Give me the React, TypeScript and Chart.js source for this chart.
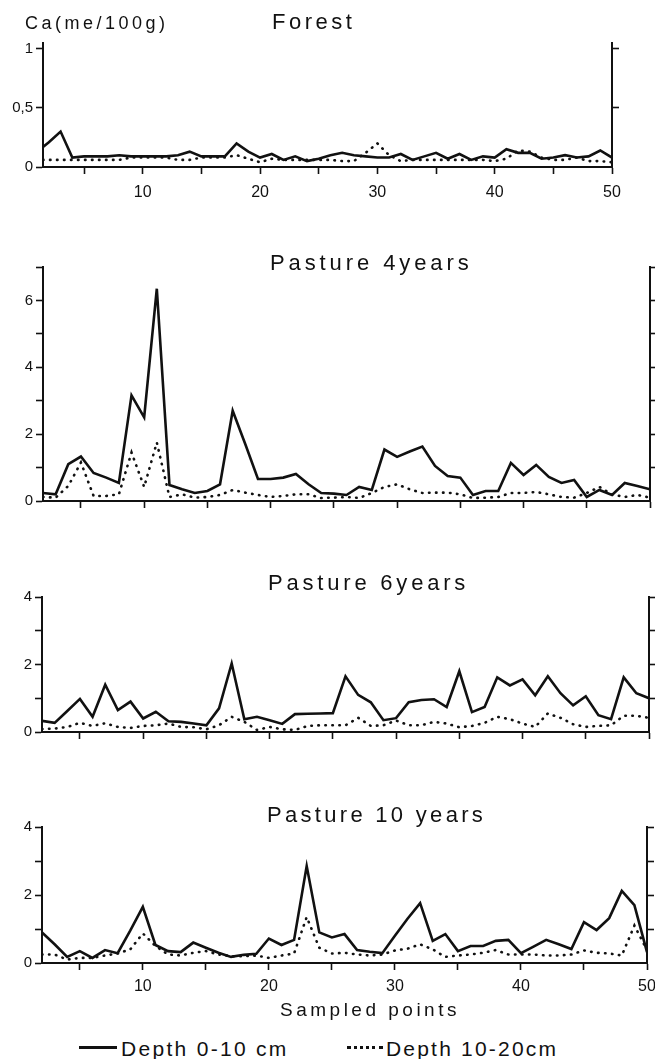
import React, { useEffect, useRef } from 'react';
import { Chart, registerables } from 'chart.js';

Chart.register(...registerables);

// ---------- DATA ----------
const forestPoints = [1.5, 2, 3, 4, 5, 6, 7, 8, 9, 10, 11, 12, 13, 14, 15, 16, 17, 18, 19, 20, 21, 22, 23, 24, 25, 26, 27, 28, 29, 30, 31, 32, 33, 34, 35, 36, 37, 38, 39, 40, 41, 42, 43, 44, 45, 46, 47, 48, 49, 50];
const points = [2, 3, 4, 5, 6, 7, 8, 9, 10, 11, 12, 13, 14, 15, 16, 17, 18, 19, 20, 21, 22, 23, 24, 25, 26, 27, 28, 29, 30, 31, 32, 33, 34, 35, 36, 37, 38, 39, 40, 41, 42, 43, 44, 45, 46, 47, 48, 49, 50];

const forestTop = [0.17, 0.21, 0.30, 0.08, 0.09, 0.09, 0.09, 0.10, 0.09, 0.09, 0.09, 0.09, 0.10, 0.13, 0.09, 0.09, 0.09, 0.20, 0.13, 0.08, 0.11, 0.06, 0.09, 0.05, 0.07, 0.10, 0.12, 0.10, 0.09, 0.08, 0.08, 0.11, 0.06, 0.09, 0.12, 0.07, 0.11, 0.06, 0.09, 0.08, 0.15, 0.12, 0.12, 0.07, 0.08, 0.10, 0.08, 0.09, 0.14, 0.08];
const forestSub = [0.06, 0.06, 0.06, 0.06, 0.06, 0.06, 0.06, 0.06, 0.08, 0.08, 0.08, 0.08, 0.06, 0.06, 0.08, 0.08, 0.08, 0.10, 0.07, 0.04, 0.07, 0.06, 0.06, 0.06, 0.06, 0.06, 0.05, 0.05, 0.12, 0.20, 0.10, 0.05, 0.06, 0.06, 0.06, 0.06, 0.06, 0.06, 0.06, 0.05, 0.07, 0.14, 0.13, 0.08, 0.06, 0.06, 0.08, 0.05, 0.05, 0.04];

const p4Top = [0.24, 0.2, 1.1, 1.33, 0.84, 0.7, 0.54, 3.16, 2.5, 6.35, 0.48, 0.35, 0.24, 0.3, 0.5, 2.7, 1.7, 0.66, 0.66, 0.7, 0.81, 0.5, 0.24, 0.22, 0.18, 0.42, 0.33, 1.54, 1.32, 1.48, 1.63, 1.05, 0.75, 0.7, 0.18, 0.3, 0.3, 1.14, 0.78, 1.08, 0.72, 0.54, 0.63, 0.12, 0.33, 0.18, 0.54, 0.45, 0.35];
const p4Sub = [0.12, 0.1, 0.45, 1.15, 0.15, 0.15, 0.2, 1.45, 0.42, 1.75, 0.12, 0.2, 0.1, 0.12, 0.18, 0.33, 0.25, 0.18, 0.12, 0.15, 0.2, 0.2, 0.09, 0.1, 0.12, 0.09, 0.24, 0.42, 0.5, 0.35, 0.24, 0.25, 0.25, 0.2, 0.09, 0.1, 0.12, 0.24, 0.24, 0.27, 0.2, 0.12, 0.1, 0.24, 0.42, 0.2, 0.12, 0.18, 0.1];

const p6Top = [0.33, 0.27, 0.62, 0.98, 0.45, 1.4, 0.65, 0.9, 0.4, 0.6, 0.32, 0.3, 0.25, 0.2, 0.7, 2.03, 0.38, 0.45, 0.35, 0.24, 0.53, 0.54, 0.55, 0.56, 1.65, 1.1, 0.88, 0.35, 0.41, 0.88, 0.95, 0.97, 0.74, 1.8, 0.59, 0.74, 1.62, 1.38, 1.56, 1.09, 1.65, 1.15, 0.79, 1.06, 0.5, 0.38, 1.62, 1.15, 1.0];
const p6Sub = [0.09, 0.1, 0.15, 0.27, 0.18, 0.26, 0.15, 0.12, 0.18, 0.2, 0.25, 0.15, 0.14, 0.08, 0.2, 0.45, 0.3, 0.06, 0.15, 0.08, 0.06, 0.18, 0.2, 0.2, 0.2, 0.42, 0.18, 0.2, 0.34, 0.2, 0.2, 0.3, 0.25, 0.14, 0.18, 0.27, 0.45, 0.38, 0.25, 0.15, 0.55, 0.42, 0.23, 0.15, 0.18, 0.2, 0.48, 0.48, 0.42];

const p10Top = [0.9, 0.55, 0.18, 0.35, 0.15, 0.38, 0.29, 0.95, 1.65, 0.53, 0.35, 0.32, 0.6, 0.45, 0.3, 0.18, 0.24, 0.27, 0.72, 0.53, 0.68, 2.85, 0.9, 0.75, 0.85, 0.38, 0.33, 0.29, 0.8, 1.3, 1.76, 0.65, 0.85, 0.35, 0.5, 0.5, 0.65, 0.68, 0.29, 0.48, 0.68, 0.55, 0.41, 1.2, 0.97, 1.32, 2.12, 1.7, 0.32];
const p10Sub = [0.25, 0.25, 0.1, 0.15, 0.15, 0.22, 0.28, 0.4, 0.87, 0.5, 0.25, 0.22, 0.3, 0.35, 0.25, 0.2, 0.2, 0.22, 0.15, 0.22, 0.28, 1.35, 0.45, 0.28, 0.3, 0.25, 0.22, 0.25, 0.37, 0.42, 0.55, 0.4, 0.18, 0.22, 0.25, 0.3, 0.38, 0.25, 0.25, 0.25, 0.22, 0.22, 0.25, 0.37, 0.3, 0.28, 0.22, 1.1, 0.38];

const xTickValues = [5, 10, 15, 20, 25, 30, 35, 40, 45, 50];
const forestYTicks = [0, 0.5, 1];
const p4YTicks = [0, 1, 2, 3, 4, 5, 6, 7];
const p610YTicks = [0, 1, 2, 3, 4];

const titles = ['Forest', 'Pasture 4years', 'Pasture 6years', 'Pasture 10 years'];
const yUnit = 'Ca(me/100g)';
const xTitle = 'Sampled points';
const seriesNames = ['Depth 0-10 cm', 'Depth 10-20cm'];

const INK = '#111';
const FONT = '"Liberation Sans", Arial, Helvetica, sans-serif';
const W = 655;

type PanelDef = {
  top: number; height: number; areaTop: number; areaBottom: number; areaLeft: number; areaRight: number;
  xMin: number; yMax: number; yTicks: number[]; rightTicks: number[]; labelEven: boolean;
  showXLabels: boolean; xPad: number; xs: number[]; solid: number[]; dotted: number[];
};

const panels: PanelDef[] = [
  { top: 30, height: 180, areaTop: 43, areaBottom: 167, areaLeft: 43, areaRight: 612, xMin: 1.5, yMax: 1.05,
    yTicks: forestYTicks, rightTicks: [0.5, 1], labelEven: false, showXLabels: true, xPad: 9,
    xs: forestPoints, solid: forestTop, dotted: forestSub },
  { top: 240, height: 280, areaTop: 267, areaBottom: 501, areaLeft: 43, areaRight: 650, xMin: 2, yMax: 7,
    yTicks: p4YTicks, rightTicks: [1, 2, 3, 4, 5, 6, 7], labelEven: true, showXLabels: false, xPad: 5,
    xs: points, solid: p4Top, dotted: p4Sub },
  { top: 585, height: 165, areaTop: 597, areaBottom: 732, areaLeft: 42, areaRight: 649, xMin: 2, yMax: 4,
    yTicks: p610YTicks, rightTicks: [1, 2, 3, 4], labelEven: true, showXLabels: false, xPad: 5,
    xs: points, solid: p6Top, dotted: p6Sub },
  { top: 812, height: 188, areaTop: 827, areaBottom: 963, areaLeft: 42, areaRight: 647, xMin: 2, yMax: 4,
    yTicks: p610YTicks, rightTicks: [1, 2, 3, 4], labelEven: true, showXLabels: true, xPad: 7,
    xs: points, solid: p10Top, dotted: p10Sub },
];

function PanelChart({ p }: { p: PanelDef }) {
  const ref = useRef<HTMLCanvasElement>(null);
  useEffect(() => {
    const canvas = ref.current;
    if (!canvas) return;
    const grid = { drawOnChartArea: false, drawTicks: true, tickLength: 7, tickWidth: 1.6, tickColor: INK, color: INK };
    const border = { display: true, width: 2, color: INK };
    const chart = new Chart(canvas, {
      type: 'line',
      data: {
        datasets: [
          { label: seriesNames[0], data: p.xs.map((x, i) => ({ x, y: p.solid[i] })), borderColor: INK, borderWidth: 2.6,
            pointRadius: 0, tension: 0, borderJoinStyle: 'miter', fill: false },
          { label: seriesNames[1], data: p.xs.map((x, i) => ({ x, y: p.dotted[i] })), borderColor: INK, borderWidth: 2.6,
            borderDash: [0.5, 6.5], borderCapStyle: 'round', pointRadius: 0, tension: 0, fill: false },
        ],
      },
      options: {
        responsive: false,
        animation: false,
        devicePixelRatio: 1,
        layout: { padding: { top: p.areaTop - p.top, left: 0, right: 0, bottom: 0 } },
        plugins: { legend: { display: false }, tooltip: { enabled: false }, title: { display: false } },
        scales: {
          x: {
            type: 'linear', min: p.xMin, max: 50,
            afterBuildTicks: (s: any) => { s.ticks = xTickValues.map((v) => ({ value: v })); },
            afterFit: (s: any) => {
              s.height = p.top + p.height - p.areaBottom;
              s.paddingLeft = 0; s.paddingRight = 0;
            },
            grid, border,
            ticks: {
              autoSkip: false, maxRotation: 0, padding: p.xPad, color: INK,
              font: { family: FONT, size: 16 },
              callback: (v: any) => (p.showXLabels && Number(v) % 10 === 0 ? String(v) : ''),
            },
          },
          y: {
            type: 'linear', position: 'left', min: 0, max: p.yMax,
            afterBuildTicks: (s: any) => { s.ticks = p.yTicks.map((v) => ({ value: v })); },
            afterFit: (s: any) => { s.width = p.areaLeft; s.paddingTop = 0; s.paddingBottom = 0; },
            grid, border,
            ticks: {
              padding: 3, color: INK, font: { family: FONT, size: 15 },
              callback: (v: any) => {
                const n = Number(v);
                if (p.labelEven) return n % 2 === 0 ? String(n) : '';
                return String(n).replace('.', ',');
              },
            },
          },
          y2: {
            type: 'linear', position: 'right', min: 0, max: p.yMax,
            afterBuildTicks: (s: any) => { s.ticks = p.rightTicks.map((v) => ({ value: v })); },
            afterFit: (s: any) => { s.width = W - p.areaRight; s.paddingTop = 0; s.paddingBottom = 0; },
            grid, border,
            ticks: { padding: 0, callback: () => '', font: { family: FONT, size: 15 } },
          },
        },
      },
    } as any);
    return () => chart.destroy();
  }, [p]);
  return (
    <canvas
      ref={ref}
      width={W}
      height={p.height}
      style={{ position: 'absolute', left: 0, top: p.top, width: W, height: p.height, display: 'block' }}
    />
  );
}

const textStyle = (left: number, top: number, size: number, spacing: number): React.CSSProperties => ({
  position: 'absolute', left, top, fontFamily: FONT, fontSize: size, lineHeight: `${size}px`,
  letterSpacing: spacing, color: INK, whiteSpace: 'nowrap', zIndex: 2,
});

export default function App() {
  return (
    <div style={{ position: 'absolute', left: 0, top: 0, width: W, height: 1059, background: '#fff', overflow: 'hidden' }}>
      {panels.map((p, i) => (
        <PanelChart key={i} p={p} />
      ))}
      <div style={textStyle(25, 14, 18, 3.5)}>{yUnit}</div>
      <div style={textStyle(272, 11, 22, 3.5)}>{titles[0]}</div>
      <div style={textStyle(270, 252, 22, 3.9)}>{titles[1]}</div>
      <div style={textStyle(268, 572, 22, 3.8)}>{titles[2]}</div>
      <div style={textStyle(267, 804, 22, 3.3)}>{titles[3]}</div>
      <div style={textStyle(280, 1000, 19, 3.5)}>{xTitle}</div>
      <div style={{ position: 'absolute', left: 79, top: 1046, width: 38, height: 0, borderTop: `3px solid ${INK}`, zIndex: 2 }} />
      <div style={textStyle(121, 1038, 21, 2.3)}>{seriesNames[0]}</div>
      <div style={{ position: 'absolute', left: 347, top: 1046, width: 36, height: 0, borderTop: `3px dotted ${INK}`, zIndex: 2 }} />
      <div style={textStyle(386, 1038, 21, 2.2)}>{seriesNames[1]}</div>
    </div>
  );
}
